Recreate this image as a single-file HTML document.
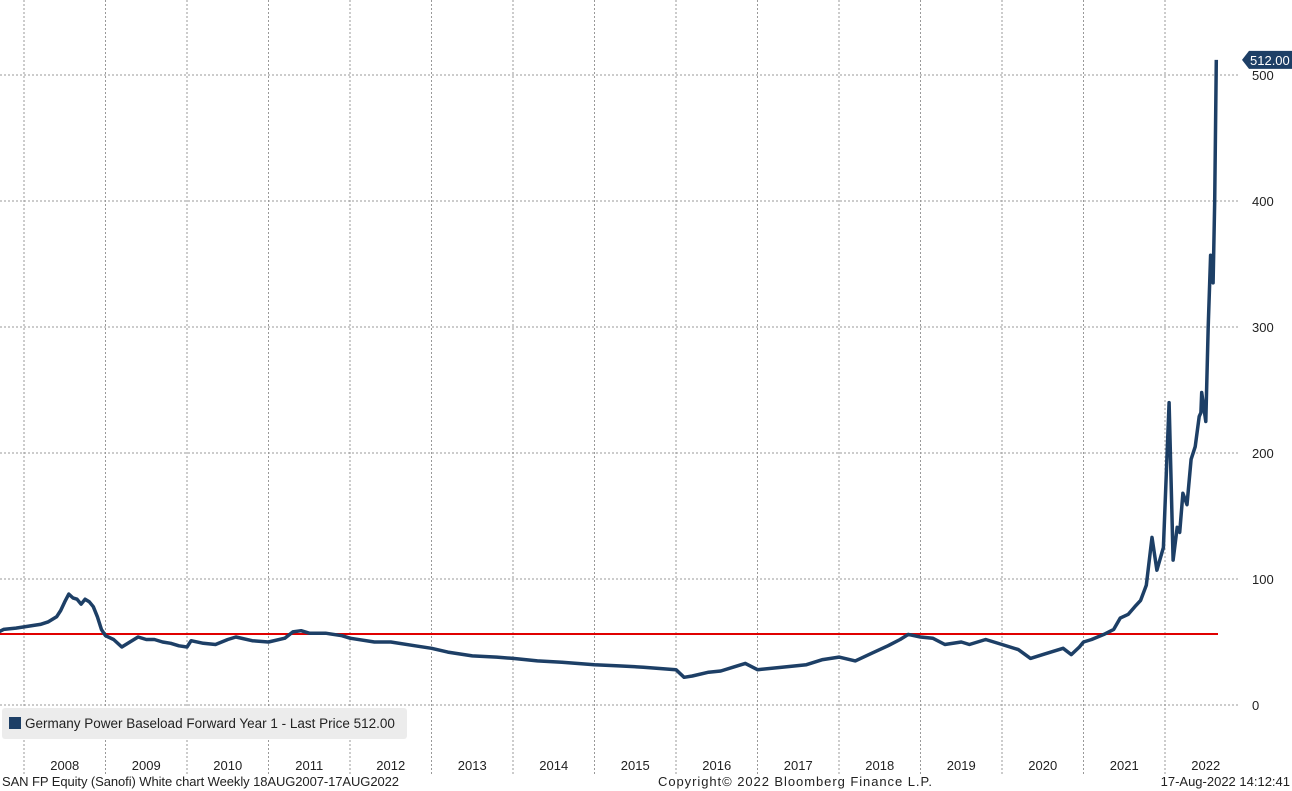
<!DOCTYPE html>
<html><head><meta charset="utf-8"><style>
body{margin:0;background:#fff;width:1292px;height:791px;overflow:hidden;font-family:"Liberation Sans",sans-serif}
svg{display:block}
text{font-family:"Liberation Sans",sans-serif;font-size:13px;fill:#222}
</style></head><body>
<svg id="c" width="1292" height="791"></svg>
<script>
const years=[2008,2009,2010,2011,2012,2013,2014,2015,2016,2017,2018,2019,2020,2021,2022];
const yTicks=[0,100,200,300,400,500];
const dates=[
2007.63,2007.75,2007.9,2008.0,2008.1,2008.2,2008.3,2008.4,2008.45,2008.5,
2008.55,2008.6,2008.65,2008.7,2008.75,2008.8,2008.85,2008.9,2008.95,2009.0,
2009.1,2009.2,2009.3,2009.4,2009.5,2009.6,2009.7,2009.8,2009.9,2010.0,
2010.05,2010.2,2010.35,2010.5,2010.6,2010.8,2011.0,2011.2,2011.3,2011.4,
2011.5,2011.7,2011.9,2012.0,2012.3,2012.5,2012.8,2013.0,2013.2,2013.5,
2013.8,2014.0,2014.3,2014.6,2015.0,2015.3,2015.6,2015.8,2016.0,2016.1,
2016.2,2016.4,2016.55,2016.7,2016.85,2017.0,2017.3,2017.6,2017.8,2018.0,
2018.2,2018.4,2018.6,2018.75,2018.85,2019.0,2019.15,2019.3,2019.5,2019.6,
2019.8,2020.0,2020.2,2020.35,2020.5,2020.6,2020.75,2020.85,2020.95,2021.0,
2021.1,2021.25,2021.37,2021.45,2021.55,2021.63,2021.7,2021.77,2021.84,2021.9,
2021.98,2022.05,2022.10,2022.15,2022.18,2022.22,2022.27,2022.32,2022.37,2022.42,
2022.44,2022.45,2022.5,2022.53,2022.56,2022.59,2022.61,2022.63];
const prices=[
56,60,61,62,63,64,66,70,75,82,
88,85,84,80,84,82,78,70,60,55,
52,46,50,54,52,52,50,49,47,46,
51,49,48,52,54,51,50,53,58,59,
57,57,55,53,50,50,47,45,42,39,
38,37,35,34,32,31,30,29,28,22,
23,26,27,30,33,28,30,32,36,38,
35,41,47,52,56,54,53,48,50,48,
52,48,44,37,40,42,45,40,46,50,
52,56,60,69,72,78,83,95,133,107,
125,240,115,141,137,168,159,195,205,229,
232,248,225,300,357,335,400,512];
const refLevel=56.3;
const X=y=>24+(y-2008)*81.5;
const Y=v=>705-v*1.26;
const s=document.getElementById('c');const NS='http://www.w3.org/2000/svg';
function mk(t,a,p){const e=document.createElementNS(NS,t);for(const k in a)e.setAttribute(k,a[k]);(p||s).appendChild(e);return e;}
years.forEach(yr=>{
 const g=mk('line',{x1:X(yr),x2:X(yr),y1:0,y2:775,stroke:'#999','stroke-dasharray':'2,2','stroke-width':1});
 
 
 const t=mk('text',{x:X(yr)+40.75,y:770,'text-anchor':'middle'});t.textContent=yr;
 
 
});
yTicks.forEach(v=>{
 const g=mk('line',{x1:0,x2:1240,y1:Y(v),y2:Y(v),stroke:'#999','stroke-dasharray':'2,2','stroke-width':1});
 
 
 const t=mk('text',{x:1252,y:Y(v)+5});t.textContent=v;
 
 
});
const r=mk('line',{x1:0,x2:1218,y1:Y(refLevel),y2:Y(refLevel),stroke:'#e00000','stroke-width':2});


const n=Math.min(dates.length,prices.length);
const pts=dates.slice(0,n).map((d,i)=>X(d).toFixed(1)+','+Y(prices[i]).toFixed(1)).join(' ');
const pl=mk('polyline',{points:pts,fill:'none',stroke:'#1d3f66','stroke-width':3.5,'stroke-linejoin':'round'});


const last=prices[n-1];const ly=Y(last);
const tag=mk('polygon',{points:`1242,${ly} 1249,${ly-9} 1292,${ly-9} 1292,${ly+9} 1249,${ly+9}`,fill:'#1d3f66'});


const tt=mk('text',{x:1250,y:ly+5,style:'fill:#fff;font-size:13px'});tt.textContent=last.toFixed(2);


const lb=mk('rect',{x:2,y:708,width:405,height:31,rx:3,fill:'#ececec'});


const sw=mk('rect',{x:9,y:717,width:12,height:12,fill:'#1d3f66'});


const lt=mk('text',{x:25,y:728,style:'font-size:13.5px'});lt.textContent='Germany Power Baseload Forward Year 1 - Last Price '+last.toFixed(2);


const f1=mk('text',{x:2,y:786,textLength:397});f1.textContent='SAN FP Equity (Sanofi) White chart  Weekly 18AUG2007-17AUG2022';


const f2=mk('text',{x:658,y:786,textLength:274});f2.textContent='Copyright\u00A9 2022 Bloomberg Finance L.P.';


const f3=mk('text',{x:1290,y:786,'text-anchor':'end'});f3.textContent='17-Aug-2022 14:12:41';


</script>
</body></html>
